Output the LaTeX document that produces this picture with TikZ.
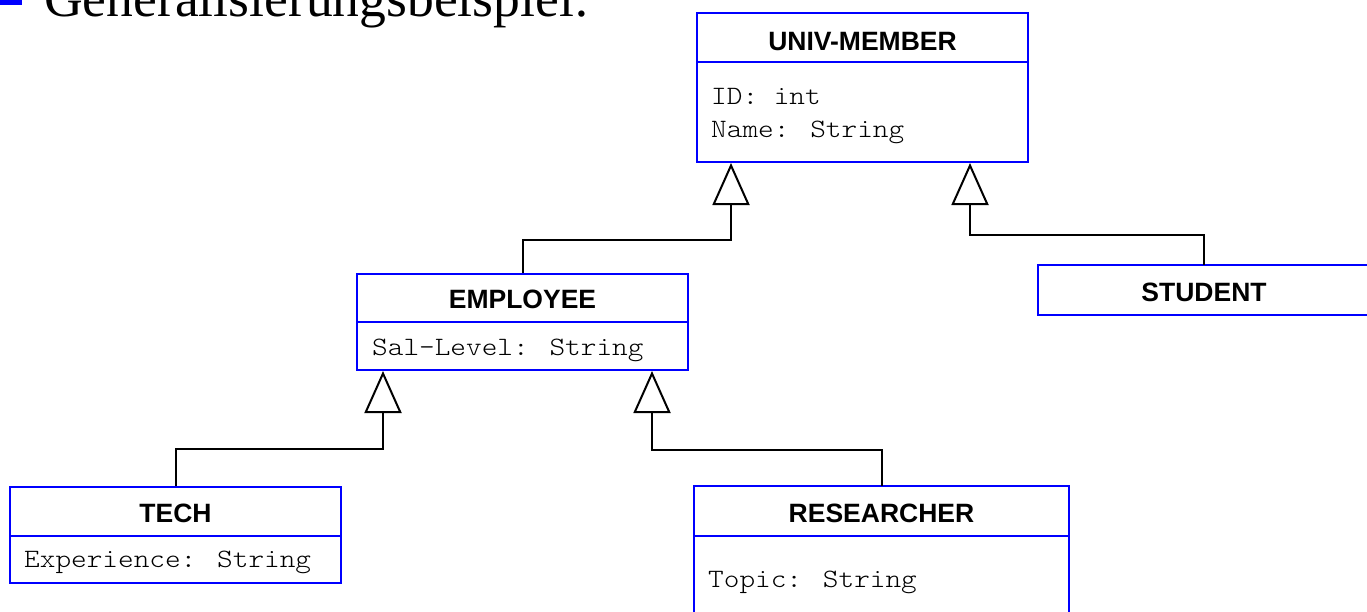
\documentclass[tikz,border=0pt]{standalone}
\usepackage{fontspec}
\setmainfont{Liberation Serif}
\setsansfont{Liberation Sans}
\newfontfamily\courfont[FakeStretch=1.125]{lmmonolt10-regular.otf}
\usetikzlibrary{arrows.meta}
\definecolor{boxblue}{RGB}{0,0,255}
\tikzset{
  cls/.style={draw=boxblue, line width=2pt, rectangle, inner sep=0pt, outer sep=0pt, fill=white},
  divider/.style={draw=boxblue, line width=2pt},
  title/.style={font=\sffamily\bfseries\fontsize{26.5}{30}\selectfont, inner sep=0pt, anchor=base},
  attr/.style={font=\courfont\fontsize{26.5}{30}\selectfont, inner sep=0pt, anchor=base west},
  gen/.style={line width=2pt, -{Triangle[open, length=42pt, width=37pt, line width=2pt]}},
  head/.style={font=\fontsize{53.6}{60}\selectfont, inner sep=0pt, anchor=base west}
}
\begin{document}
\begin{tikzpicture}[x=1pt,y=-1pt]
\useasboundingbox (0,0) rectangle (1367,611);
% heading
\fill[boxblue] (0,0) rectangle (22,5);
\node[head] (heading) at (44,16) {Generalisierungsbeispiel:};
% UNIV-MEMBER
\node[cls, minimum width=331pt, minimum height=149pt] (univ) at (862.5,87.5) {};
\draw[divider] (697,62) -- (1028,62);
\node[title] (univt) at (862.5,50) {UNIV-MEMBER};
\node[attr] (univa1) at (711,104) {ID: int};
\node[attr] (univa2) at (711,137) {Name: String};
% STUDENT
\node[cls, minimum width=340pt, minimum height=50pt] (stud) at (1208,290) {};
\node[title] (studt) at (1204,301) {STUDENT};
% EMPLOYEE
\node[cls, minimum width=331pt, minimum height=96pt] (emp) at (522.5,321.5) {};
\draw[divider] (357,322) -- (688,322);
\node[title] (empt) at (522.5,308) {EMPLOYEE};
\node[attr] (empa) at (372,355) {Sal-Level: String};
% TECH
\node[cls, minimum width=331pt, minimum height=96pt] (tech) at (175.5,534.5) {};
\draw[divider] (10,536) -- (341,536);
\node[title] (techt) at (175.5,522) {TECH};
\node[attr] (techa) at (24,567) {Experience: String};
% RESEARCHER
\node[cls, minimum width=375pt, minimum height=160pt] (res) at (881.5,566) {};
\draw[divider] (694,536) -- (1069,536);
\node[title] (rest) at (881.5,522) {RESEARCHER};
\node[attr] (resa) at (708,587) {Topic: String};
% attachment points
\coordinate (u1) at (731,163);
\coordinate (u2) at (970,163);
\coordinate (e1) at (383,371);
\coordinate (e2) at (652,371);
\coordinate (empn) at (523,273);
\coordinate (studn) at (1204,265);
\coordinate (techn) at (176,486);
\coordinate (resn) at (882,486);
% generalisations
\draw[gen] (empn) |- (731,240) -- (u1);
\draw[gen] (studn) |- (970,235) -- (u2);
\draw[gen] (techn) |- (383,449) -- (e1);
\draw[gen] (resn) |- (652,450) -- (e2);
\end{tikzpicture}
\end{document}
